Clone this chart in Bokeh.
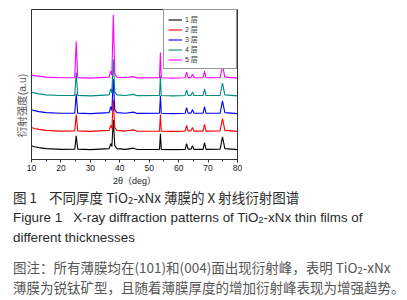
from bokeh.plotting import figure
from bokeh.models import Legend, LegendItem, Div, FixedTicker, SingleIntervalTicker
from bokeh.layouts import column
from bokeh.embed import file_html
from bokeh.resources import INLINE

# ---- data (intensity in arbitrary units) ----
two_theta = [10, 11, 12.5, 15, 20, 24.7, 25.2, 25.7, 30, 36.4, 36.9, 37.3, 37.8, 38.3, 39.0,
             42, 44.6, 46, 53.5, 53.8, 54.1, 58, 62.2, 62.7, 63.2, 64.2, 64.7, 65.2,
             68.3, 68.8, 69.3, 74.1, 74.9, 75.7, 80]

film_1 = [4, 3, 2, 1, 0.3, 0.5, 14, 0.5, 0, 1, 6, 3, 30, 4, 1,
          0.3, 1.5, 0.2, 0.3, 16, 0.3, 0, 0.3, 6, 0.5, 0.5, 4, 0.3,
          0.3, 7, 0.3, 0.5, 13, 1, 0]
film_2 = [4, 3, 2, 1, 0.3, 0.5, 17, 0.5, 0, 1, 6, 3, 32, 4, 1,
          0.3, 1.5, 0.2, 0.3, 17, 0.3, 0, 0.3, 6, 0.5, 0.5, 4, 0.3,
          0.3, 7, 0.3, 0.5, 13, 1, 0]
film_3 = [4, 3, 2, 1, 0.3, 0.5, 20, 0.5, 0, 1, 7, 3, 35, 4, 1,
          0.3, 1.5, 0.2, 0.3, 18, 0.3, 0, 0.3, 6, 0.5, 0.5, 4, 0.3,
          0.3, 7, 0.3, 0.5, 13, 1, 0]
film_4 = [4, 3, 2, 1, 0.3, 0.5, 24, 0.5, 0, 1, 7, 3, 37, 4, 1,
          0.3, 1.5, 0.2, 0.3, 20, 0.3, 0, 0.3, 6, 0.5, 0.5, 4, 0.3,
          0.3, 7, 0.3, 0.5, 13, 1, 0]
film_5 = [3, 2.5, 2, 1, 0.3, 0.5, 37, 0.5, 0, 1, 7, 3, 64, 4, 1,
          0.3, 1.5, 0.2, 0.3, 26, 0.3, 0, 0.3, 6, 0.5, 0.5, 4, 0.3,
          0.3, 7, 0.3, 0.5, 13, 1, 0]

offsets = [10, 28.5, 46.5, 64.5, 82.5]
series_names = ["1 层", "2 层", "3 层", "4 层", "5 层"]
series_colors = ["#000000", "#ff0000", "#0000ff", "#008b80", "#ff00ff"]
x_ticks_interval = 10

CJK = "Liberation Sans, Noto Sans CJK SC"

p = figure(width=248, height=188, x_range=(10, 80), y_range=(0, 152),
           output_backend="svg", toolbar_location=None,
           min_border_left=31, min_border_right=11, min_border_top=9, min_border_bottom=27)
p.grid.visible = False
p.outline_line_color = "#333333"
p.background_fill_color = "white"
p.border_fill_color = "white"

p.xaxis.ticker = SingleIntervalTicker(interval=x_ticks_interval, num_minor_ticks=2)
p.xaxis.axis_label = "2θ（deg）"
p.xaxis.axis_label_text_font = CJK
p.xaxis.axis_label_text_font_size = "9px"
p.xaxis.axis_label_text_font_style = "normal"
p.xaxis.axis_label_text_color = "#222222"
p.xaxis.axis_label_standoff = 2
p.xaxis.major_label_text_font = "Liberation Sans"
p.xaxis.major_label_text_font_size = "8.5px"
p.xaxis.major_label_text_color = "#222222"
p.xaxis.major_label_standoff = 2
p.xaxis.major_tick_in = 0
p.xaxis.major_tick_out = 3
p.xaxis.minor_tick_in = 0
p.xaxis.minor_tick_out = 2
p.xaxis.axis_line_color = "#333333"
p.xaxis.major_tick_line_color = "#333333"
p.xaxis.minor_tick_line_color = "#333333"

p.yaxis.ticker = FixedTicker(ticks=[])
p.yaxis.axis_label = "衍射强度(a.u)\u3000\u3000\u3000\u3000"
p.yaxis.axis_label_text_font = CJK
p.yaxis.axis_label_text_font_size = "10.5px"
p.yaxis.axis_label_text_font_style = "normal"
p.yaxis.axis_label_text_color = "#555555"
p.yaxis.axis_label_standoff = 4
p.yaxis.major_tick_out = 0
p.yaxis.minor_tick_out = 0
p.yaxis.axis_line_color = "#333333"

films = [film_1, film_2, film_3, film_4, film_5]
items = []
for vals, off, name, col in zip(films, offsets, series_names, series_colors):
    y = [v + off for v in vals]
    r = p.line(two_theta, y, line_color=col, line_width=1.1)
    items.append(LegendItem(label=name, renderers=[r]))

legend = Legend(items=items, location="top_right", margin=0, padding=4, spacing=0,
                glyph_width=14, glyph_height=7, label_height=7, label_width=47,
                label_standoff=3, label_text_font=CJK, label_text_font_size="7px",
                label_text_color="#333333", border_line_color="#333333",
                border_line_width=1, background_fill_color="white", background_fill_alpha=1)
p.add_layout(legend)

sub = '<span style="font-size:0.7em;vertical-align:-0.12em;line-height:0">2</span>'
caption = (
    '<div style="font-family:\'Noto Sans CJK SC\',\'Liberation Sans\',sans-serif;padding-left:13px;margin:0;color:#2a2a2a;white-space:nowrap;width:382px;">'
    f'<div style="font-size:13.5px;line-height:19px;">图 1&nbsp;&nbsp;&nbsp;&nbsp;不同厚度 TiO{sub}-xNx 薄膜的 X 射线衍射图谱</div>'
    f'<div style="font-family:\'Liberation Sans\',Arial,sans-serif;font-size:13.4px;line-height:19.5px;margin-top:1px;">Figure 1&nbsp;&nbsp;&nbsp;X-ray diffraction patterns of TiO{sub}-xNx thin films of<br>different thicknesses</div>'
    f'<div style="margin-top:10px;font-size:13.5px;line-height:20px;color:#555555;">图注：所有薄膜均在(101)和(004)面出现衍射峰，表明 TiO{sub}-xNx<br>薄膜为锐钛矿型，且随着薄膜厚度的增加衍射峰表现为增强趋势。</div>'
    '</div>'
)
div = Div(text=caption, width=395, height=110, margin=0)

layout = column(p, div, spacing=0)
open("out.html", "w").write(file_html(layout, INLINE))
